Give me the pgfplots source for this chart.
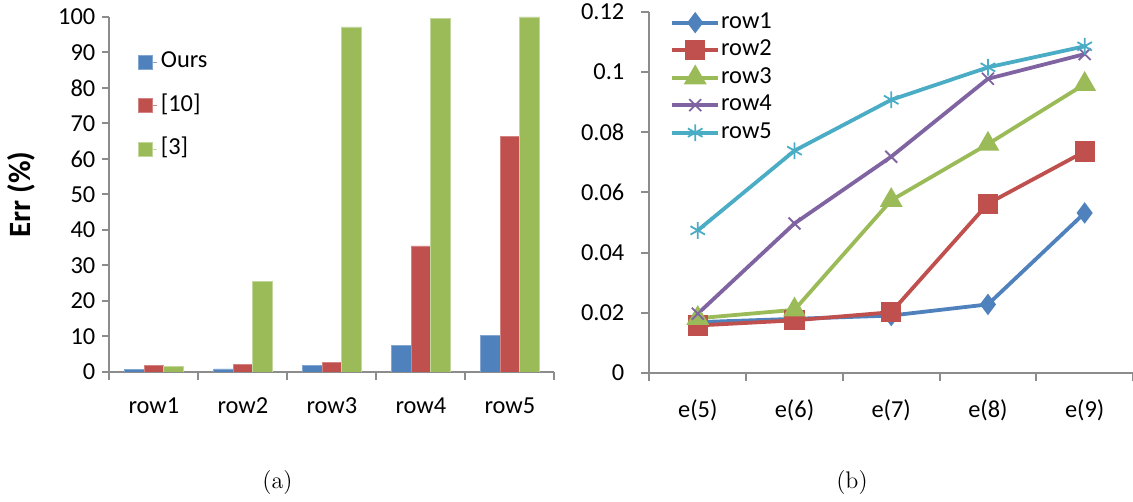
\documentclass[border=0pt]{standalone}
\usepackage{fontspec}
\usepackage{pgfplots}
\pgfplotsset{compat=1.18}
\newfontfamily\calib{Carlito}
\definecolor{cblue}{HTML}{4F81BD}
\definecolor{cred}{HTML}{C0504D}
\definecolor{cgreen}{HTML}{9BBB59}
\definecolor{cpurple}{HTML}{8064A2}
\definecolor{ccyan}{HTML}{4BACC6}
\definecolor{axgray}{HTML}{8C8C8C}
\begin{document}
\begin{tikzpicture}
\path[use as bounding box] (0,0) rectangle (566.5pt,251pt);
% ---------------- (a) ----------------
\begin{axis}[at={(54.7pt,65pt)}, anchor=south west, scale only axis,
  width=222.5pt, height=177.5pt,
  ybar=0pt, bar width=9.8pt,
  xmin=-0.5, xmax=4.5, ymin=0, ymax=100,
  axis lines=left, axis line style={-, draw=axgray, line width=1pt},
  xtick={0,1,2,3,4}, xticklabels={row1,row2,row3,row4,row5},
  major x tick style={draw=none},
  minor xtick={-0.5,0.5,1.5,2.5,3.5,4.5},
  ytick={0,10,20,30,40,50,60,70,80,90,100},
  yticklabels={0,10,20,30,40,50,60,70,80,90,100},
  tick align=outside, tick style={draw=axgray, line width=1pt},
  major tick length=3.5pt, minor tick length=4pt,
  ticklabel style={font=\calib\fontsize{12.2}{14}\selectfont},
  xticklabel style={yshift=-6pt},
  ylabel={Err (\%)},
  ylabel style={font=\calib\fontsize{15.5}{17}\selectfont\bfseries, at={(axis description cs:-0.197,0.5)}, anchor=center, rotate=0},
  legend style={at={(axis description cs:0.05,0.9235)}, anchor=north west, draw=none, fill=none,
    font=\calib\fontsize{12.2}{14}\selectfont, row sep=8.25pt,
    nodes={text height=8pt, text depth=2.5pt, inner sep=1.5pt}},
  legend cell align=left,
  legend image code/.code={\path (0pt,0pt) -- (9.5pt,0pt);\fill[#1] (0pt,-3.5pt) rectangle (7pt,3.5pt);},
]
\addplot[fill=cblue, draw=cblue!70!white, line width=0.4pt] coordinates {(0,0.66) (1,0.85) (2,1.8) (3,7.4) (4,10.2)};
\addlegendentry{Ours}
\addplot[fill=cred, draw=cred!70!white, line width=0.4pt] coordinates {(0,1.9) (1,2.0) (2,2.6) (3,35.5) (4,66.4)};
\addlegendentry{\relax[10]}
\addplot[fill=cgreen, draw=cgreen!60!white, line width=0.4pt] coordinates {(0,1.5) (1,25.5) (2,97.2) (3,99.6) (4,100)};
\addlegendentry{\relax[3]}
\end{axis}
% ---------------- (b) ----------------
\begin{axis}[at={(324.7pt,64.5pt)}, anchor=south west, scale only axis,
  width=241.8pt, height=180.5pt,
  xmin=-0.5, xmax=4.5, ymin=0, ymax=0.12,
  axis lines=left, axis line style={-, draw=axgray, line width=1pt},
  xtick={0,1,2,3,4}, xticklabels={e(5),e(6),e(7),e(8),e(9)},
  major x tick style={draw=none},
  minor xtick={-0.5,0.5,1.5,2.5,3.5,4.5},
  ytick={0,0.02,0.04,0.06,0.08,0.1,0.12},
  yticklabels={0,0.02,0.04,0.06,0.08,0.1,0.12},
  tick align=outside, tick style={draw=axgray, line width=1pt},
  major tick length=4pt, minor tick length=4pt,
  ticklabel style={font=\calib\fontsize{12.2}{14}\selectfont},
  yticklabel style={xshift=-5pt},
  xticklabel style={yshift=-6pt},
  legend style={at={(axis description cs:0.03,1.0145)}, anchor=north west, draw=none, fill=none,
    font=\calib\fontsize{12.2}{14}\selectfont, row sep=2.25pt,
    nodes={text height=8pt, text depth=2.5pt, inner sep=0.5pt}},
  legend cell align=left,
  legend image code/.code={\draw[mark repeat=2,mark phase=2,#1] plot coordinates {(0pt,0pt) (11.5pt,0pt) (23pt,0pt)};},
  every axis plot/.append style={line width=1.9pt},
]
\addplot[color=cblue, mark=diamond*, mark size=3.8pt] coordinates {(0,0.0169) (1,0.0180) (2,0.0191) (3,0.0228) (4,0.0532)};
\addplot[color=cred, mark=square*, mark size=4.1pt] coordinates {(0,0.0158) (1,0.0175) (2,0.0202) (3,0.0563) (4,0.0736)};
\addplot[color=cgreen, mark=triangle*, mark size=4.7pt] coordinates {(0,0.0182) (1,0.0210) (2,0.0574) (3,0.0761) (4,0.0960)};
\addplot[color=cpurple, mark=x, mark size=4.2pt, mark options={line width=0.9pt}] coordinates {(0,0.0197) (1,0.0497) (2,0.0719) (3,0.0978) (4,0.1060)};
\addplot[color=ccyan, mark=asterisk, mark size=4.2pt, mark options={line width=0.9pt}] coordinates {(0,0.0474) (1,0.0739) (2,0.0908) (3,0.1016) (4,0.1086)};
\legend{row1,row2,row3,row4,row5}
\end{axis}
\node[anchor=center, font=\fontsize{12}{14}\selectfont] at (138.75pt,9.5pt) {(a)};
\node[anchor=center, font=\fontsize{12}{14}\selectfont] at (426pt,9.5pt) {(b)};
\end{tikzpicture}
\end{document}
